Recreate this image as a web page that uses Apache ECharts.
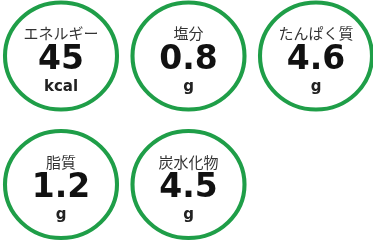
<!DOCTYPE html>
<html><head><meta charset="utf-8">
<style>html,body{margin:0;padding:0;background:#fff}#c{width:373px;height:247px}</style>
<script src="https://cdn.jsdelivr.net/npm/echarts@6/dist/echarts.min.js"></script>
</head><body><div id="c"></div>
<script>
const labels = ['エネルギー', '塩分', 'たんぱく質', '脂質', '炭水化物'];
const values = [45, 0.8, 4.6, 1.2, 4.5];
const units = ['kcal', 'g', 'g', 'g', 'g'];
const columns = 3;

const chart = echarts.init(document.getElementById('c'), null, {renderer: 'canvas'});
const data = labels.map((l, i) => ({
  value: [i % columns, Math.floor(i / columns)],
  name: l, v: values[i], u: units[i]
}));
chart.setOption({
  animation: false,
  grid: {left: 61, top: 56, width: 255, height: 128.5},
  xAxis: {type: 'value', min: 0, max: 2, show: false},
  yAxis: {type: 'value', min: 0, max: 1, inverse: true, show: false},
  series: [{
    type: 'scatter',
    clip: false,
    symbol: 'circle',
    symbolSize: [112, 107],
    itemStyle: {color: '#fff', borderColor: '#1f9e48', borderWidth: 4, opacity: 1},
    data: data,
    label: {
      show: true, position: 'inside', offset: [0, 4.5],
      formatter: p => '{l|' + p.data.name + '}\n{v|' + p.data.v + '}\n{u|' + p.data.u + '}',
      rich: {
        l: {fontFamily: 'Noto Sans CJK JP', fontSize: 15, color: '#333', lineHeight: 19, align: 'center'},
        v: {fontFamily: 'DejaVu Sans', fontWeight: 'bold', fontSize: 33, color: '#111', lineHeight: 34, align: 'center'},
        u: {fontFamily: 'DejaVu Sans', fontWeight: 'bold', fontSize: 15, color: '#222', lineHeight: 20, align: 'center'}
      }
    },
    emphasis: {disabled: true}
  }]
});
</script></body></html>
